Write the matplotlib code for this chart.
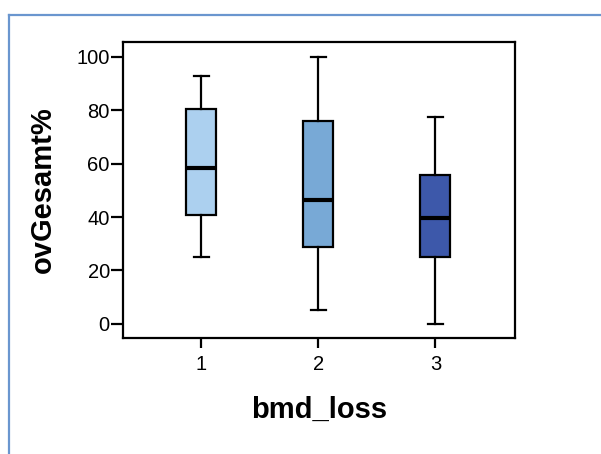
import matplotlib.pyplot as plt
from matplotlib.lines import Line2D

plt.rcParams['font.family'] = ['Liberation Sans', 'DejaVu Sans']

# Boxplot summary per group
gruppen = ["1", "2", "3"]
minimum = [25.2, 5.2, 0.0]
q1 = [40.8, 28.7, 25.2]
median = [58.3, 46.4, 39.6]
q3 = [80.4, 76.1, 55.8]
maximum = [93.0, 100.0, 77.5]
farben = ["#acd0ef", "#78a9d6", "#3d58aa"]

stats = []
for i, g in enumerate(gruppen):
    stats.append({"label": g, "whislo": minimum[i], "q1": q1[i], "med": median[i],
                  "q3": q3[i], "whishi": maximum[i], "fliers": []})

fig = plt.figure(figsize=(6.01, 4.54), dpi=100)
ax = fig.add_axes([0.2047, 0.2555, 0.6522, 0.652])

bp = ax.bxp(stats, positions=[1, 2, 3], widths=0.256, patch_artist=True,
            showfliers=False, capwidths=0.128,
            boxprops=dict(linewidth=1.6, edgecolor="black"),
            whiskerprops=dict(linewidth=1.6, color="black"),
            capprops=dict(linewidth=1.6, color="black"),
            medianprops=dict(linewidth=3, color="black", solid_capstyle="butt"))
for box, c in zip(bp["boxes"], farben):
    box.set_facecolor(c)

ax.set_xlim(0.33, 3.68)
ax.set_ylim(-5.3, 105.6)
ax.set_yticks([0, 20, 40, 60, 80, 100])
ax.tick_params(axis="both", width=1.6, labelsize=14.5)
ax.tick_params(axis="y", length=8.5, pad=1)
ax.tick_params(axis="x", length=7, pad=5)
for s in ax.spines.values():
    s.set_linewidth(1.6)

ax.set_xlabel("bmd_loss", fontsize=21, fontweight="bold", labelpad=16)
ax.set_ylabel("ovGesamt%", fontsize=21, fontweight="bold", labelpad=14)

# outer frame lines
fig.add_artist(Line2D([8.5 / 601, 8.5 / 601], [0, 1 - 15 / 454], transform=fig.transFigure,
                      color="#6a96cf", linewidth=1.6))
fig.add_artist(Line2D([8.5 / 601, 1], [1 - 15 / 454, 1 - 15 / 454], transform=fig.transFigure,
                      color="#6a96cf", linewidth=1.6))

fig.savefig("out.png", dpi=100)
